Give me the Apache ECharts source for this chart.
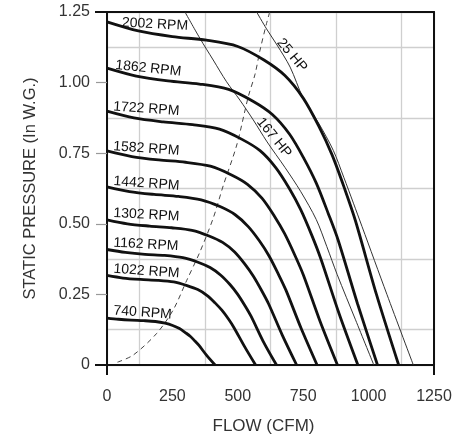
<!DOCTYPE html>
<html>
<head>
<meta charset="utf-8">
<script src="https://cdn.jsdelivr.net/npm/echarts@6/dist/echarts.min.js"></script>
<style>html,body{margin:0;padding:0;background:#fff}#c{width:463px;height:438px}</style>
</head>
<body>
<div id="c"></div>
<script>
// ---- data ----
const flowTicks = [0, 250, 500, 750, 1000, 1250];
const pressureTicks = [0, 0.25, 0.5, 0.75, 1.0, 1.25];
const rpmNames = ['2002 RPM','1862 RPM','1722 RPM','1582 RPM','1442 RPM','1302 RPM','1162 RPM','1022 RPM','740 RPM'];

const rpm2002 = [[0,1.215],[120,1.183],[250,1.163],[380,1.15],[500,1.128],[600,1.08],[680,1.025],[750,0.945],[810,0.845],[860,0.745],[910,0.62],[950,0.51],[1030,0.25],[1115,0]];
const rpm1862 = [[0,1.051],[112,1.023],[233,1.006],[353,0.995],[465,0.976],[558,0.934],[632,0.887],[698,0.817],[753,0.731],[800,0.644],[846,0.536],[884,0.441],[958,0.216],[1034,0]];
const rpm1722 = [[0,0.899],[103,0.875],[215,0.861],[327,0.851],[430,0.835],[516,0.799],[585,0.759],[645,0.699],[697,0.625],[740,0.551],[783,0.459],[817,0.377],[886,0.185],[959,0]];
const rpm1582 = [[0,0.758],[95,0.738],[198,0.726],[300,0.718],[395,0.704],[474,0.674],[537,0.64],[593,0.59],[640,0.527],[679,0.465],[719,0.387],[751,0.318],[814,0.156],[881,0]];
const rpm1442 = [[0,0.631],[86,0.614],[180,0.604],[274,0.597],[360,0.585],[432,0.561],[490,0.532],[540,0.49],[583,0.439],[619,0.387],[655,0.322],[684,0.265],[742,0.13],[803,0]];
const rpm1302 = [[0,0.514],[78,0.5],[163,0.492],[247,0.486],[325,0.477],[390,0.457],[442,0.434],[488,0.4],[527,0.357],[559,0.315],[592,0.262],[618,0.216],[670,0.106],[725,0]];
const rpm1162 = [[0,0.409],[70,0.399],[145,0.392],[220,0.388],[290,0.38],[348,0.364],[394,0.345],[435,0.318],[470,0.285],[499,0.251],[528,0.209],[551,0.172],[597,0.084],[648,0]];
const rpm1022 = [[0,0.317],[61,0.308],[128,0.303],[194,0.3],[255,0.294],[306,0.281],[347,0.267],[383,0.246],[413,0.22],[439,0.194],[465,0.162],[485,0.133],[526,0.065],[568,0]];
const rpm740  = [[0,0.166],[44,0.162],[92,0.159],[140,0.157],[185,0.154],[222,0.148],[251,0.14],[277,0.129],[299,0.115],[318,0.102],[336,0.085],[351,0.07],[381,0.034],[413,0]];

const hp25  = [[572,1.25],[610,1.19],[650,1.133],[700,1.055],[750,0.945],[810,0.855],[865,0.76],[905,0.665],[942,0.573],[975,0.49],[1070,0.25],[1171,0]];
const hp167 = [[298,1.25],[355,1.157],[406,1.08],[457,1.003],[508,0.938],[559,0.868],[612,0.79],[680,0.7],[740,0.615],[800,0.515],[840,0.42],[880,0.32],[950,0.16],[1020,0]];
const systemCurve = [[40,0.01],[100,0.035],[190,0.112],[253,0.195],[305,0.3],[355,0.4],[406,0.52],[445,0.637],[496,0.779],[540,0.95],[566,1.03],[585,1.115],[610,1.21],[622,1.25]];
const hpNames = ['25 HP', '167 HP'];

// ---- styling ----
const FONT = '"Liberation Sans", Arial, Helvetica, sans-serif';
const fanCurves = [rpm2002, rpm1862, rpm1722, rpm1582, rpm1442, rpm1302, rpm1162, rpm1022, rpm740];
const labelOffsets = [[15,0],[8,-4],[6,-5],[6,-5],[6,-6],[6,-7],[6,-7],[6,-7],[6,-8]];
const labelRot = [-3,-6,-4,-4,-4,-3,-3,-4,-4];

const series = [];
fanCurves.forEach((d, i) => {
  series.push({
    type: 'line', data: d, smooth: 0.3, showSymbol: false, silent: true, z: 5,
    lineStyle: { color: '#111', width: 2.8 },
    markPoint: {
      symbol: 'circle', symbolSize: 0, silent: true,
      data: [{ coord: d[0] }],
      label: { show: true, position: 'right', distance: 0, offset: labelOffsets[i], rotate: labelRot[i],
        formatter: rpmNames[i], color: '#111', fontSize: 14, fontFamily: FONT }
    }
  });
});
series.push({
  type: 'line', data: hp25, smooth: 0.3, showSymbol: false, silent: true, z: 4,
  lineStyle: { color: '#333', width: 1 },
  markPoint: { symbol: 'circle', symbolSize: 0, silent: true, data: [{ coord: hp25[3] }],
    label: { show: true, position: 'inside', offset: [-8,-9], rotate: -50, formatter: hpNames[0],
      color: '#111', fontSize: 14, fontFamily: FONT } }
});
series.push({
  type: 'line', data: hp167, smooth: 0.3, showSymbol: false, silent: true, z: 4,
  lineStyle: { color: '#333', width: 1 },
  markPoint: { symbol: 'circle', symbolSize: 0, silent: true, data: [{ coord: hp167[6] }],
    label: { show: true, position: 'inside', offset: [1,-8], rotate: -51, formatter: hpNames[1],
      color: '#111', fontSize: 14, fontFamily: FONT } }
});
series.push({
  type: 'line', data: systemCurve, smooth: 0.3, showSymbol: false, silent: true, z: 3,
  lineStyle: { color: '#444', width: 1, type: [5, 4] }
});

const gridLine = { show: true, lineStyle: { color: '#cfcfcf', width: 1.3 } };

const option = {
  animation: false,
  backgroundColor: '#fff',
  grid: { left: 107, right: 29, top: 12, bottom: 73, containLabel: false, outerBoundsMode: 'none' },
  xAxis: [{
    type: 'value', min: flowTicks[0], max: flowTicks[flowTicks.length-1], interval: 250,
    name: 'FLOW (CFM)', nameLocation: 'middle', nameGap: 53,
    nameTextStyle: { fontSize: 17, color: '#333', fontFamily: FONT, padding: [0, 14, 0, 0] },
    axisLine: { show: true, onZero: false, lineStyle: { color: '#111', width: 2 } },
    axisTick: { show: true, length: 10, customValues: [flowTicks[0], flowTicks[flowTicks.length-1]], lineStyle: { color: '#111', width: 2 } },
    axisLabel: { customValues: flowTicks, margin: 24, fontSize: 16, color: '#333', fontFamily: FONT,
      formatter: v => String(v) },
    splitLine: gridLine,
    minorTick: { show: false, splitNumber: 2 },
    minorSplitLine: gridLine
  }, {
    type: 'value', position: 'top', min: 0, max: 1250,
    axisLine: { show: true, onZero: false, lineStyle: { color: '#111', width: 2 } },
    axisTick: { show: false }, axisLabel: { show: false }, splitLine: { show: false }
  }],
  yAxis: [{
    type: 'value', min: pressureTicks[0], max: pressureTicks[pressureTicks.length-1], interval: 0.25,
    name: 'STATIC PRESSURE (In W.G.)', nameLocation: 'middle', nameGap: 68,
    nameTextStyle: { fontSize: 16.5, color: '#333', fontFamily: FONT },
    axisLine: { show: true, onZero: false, lineStyle: { color: '#111', width: 2 } },
    axisTick: { show: true, length: 12, customValues: [pressureTicks[0], pressureTicks[pressureTicks.length-1]], lineStyle: { color: '#111', width: 2 } },
    axisLabel: { customValues: pressureTicks, margin: 17, fontSize: 16, color: '#333', fontFamily: FONT,
      formatter: v => v === 0 ? '0' : v.toFixed(2) },
    splitLine: gridLine,
    minorTick: { show: false, splitNumber: 2 },
    minorSplitLine: gridLine
  }, {
    type: 'value', position: 'left', offset: 0, min: 0, max: 1.25, interval: 0.25,
    axisLine: { show: false },
    axisTick: { show: true, length: 11, customValues: pressureTicks.slice(1, -1), lineStyle: { color: '#999', width: 1.2 } },
    axisLabel: { show: false }, splitLine: { show: false }
  }, {
    type: 'value', position: 'right', min: 0, max: 1.25,
    axisLine: { show: true, onZero: false, lineStyle: { color: '#111', width: 2 } },
    axisTick: { show: false }, axisLabel: { show: false }, splitLine: { show: false }
  }],
  series: series
};

const chart = echarts.init(document.getElementById('c'), null, { renderer: 'canvas' });
chart.setOption(option);
</script>
</body>
</html>
